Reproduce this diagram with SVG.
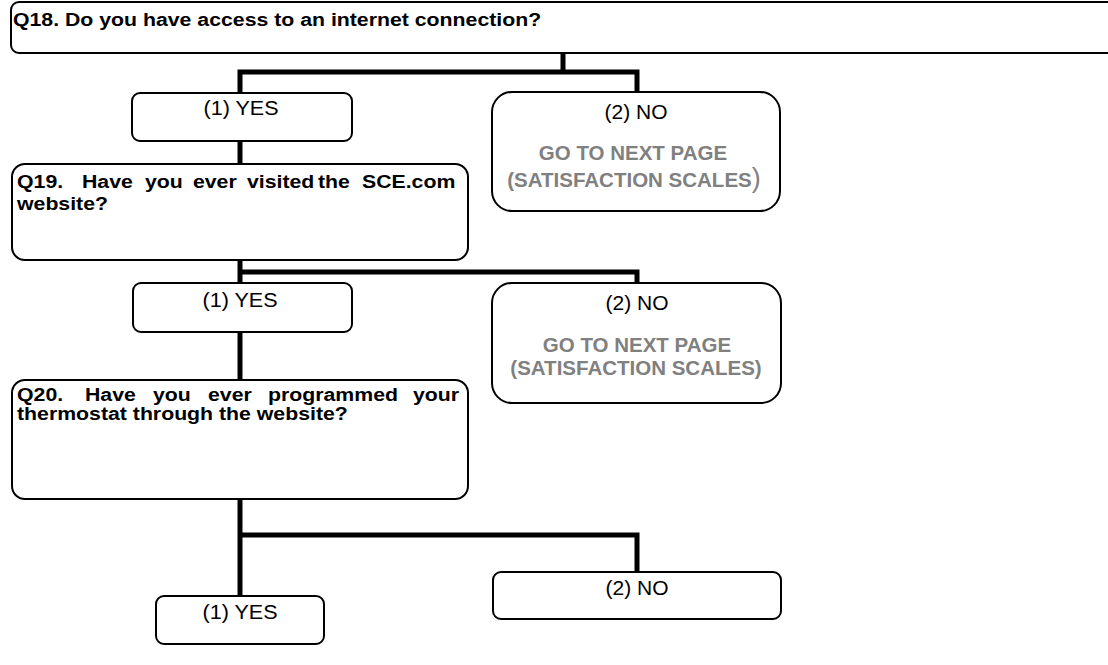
<svg xmlns="http://www.w3.org/2000/svg" width="1108" height="665" viewBox="0 0 1108 665">
<style>
.box{fill:#fff;stroke:#000;stroke-width:2}
.conn{fill:none;stroke:#000;stroke-width:5;stroke-linejoin:miter}
.q{font-family:"Liberation Sans",Arial,sans-serif;font-weight:bold;font-size:19px;fill:#000}
.lbl{font-family:"Liberation Sans",Arial,sans-serif;font-size:20px;fill:#000;text-anchor:middle}
.gray{font-family:"Liberation Sans",Arial,sans-serif;font-weight:bold;font-size:20.5px;fill:#808080;text-anchor:middle}
</style>
<rect width="1108" height="665" fill="#fff"/>
<g id="connectors">
<path class="conn" d="M563,53 V72"/>
<path class="conn" d="M240,93 V72 H637 V92"/>
<path class="conn" d="M240,141 V164"/>
<path class="conn" d="M240,260 V283"/>
<path class="conn" d="M240,272 H637 V283"/>
<path class="conn" d="M240,332 V380"/>
<path class="conn" d="M240,499 V596"/>
<path class="conn" d="M240,535 H637 V572"/>
</g>
<g id="q18">
<rect class="box" x="11" y="2" width="1110" height="51" rx="8"/>
<text class="q" transform="scale(1.12 1)" x="11.6" y="26">Q18. Do you have access to an internet connection?</text>
</g>
<g id="yes1">
<rect class="box" x="132" y="93" width="220" height="48" rx="8"/>
<text class="lbl" x="241" y="115" textLength="75" lengthAdjust="spacingAndGlyphs">(1) YES</text>
</g>
<g id="no1">
<rect class="box" x="492" y="92" width="288" height="119" rx="20"/>
<text class="lbl" x="636" y="119" textLength="63" lengthAdjust="spacingAndGlyphs">(2) NO</text>
<text class="gray" x="633" y="160">GO TO NEXT PAGE</text>
<text class="gray" x="634" y="187">(SATISFACTION SCALES<tspan font-size="27" font-weight="normal">)</tspan></text>
</g>
<g id="q19">
<rect class="box" x="12" y="164" width="456" height="96" rx="13"/>
<text class="q" transform="scale(1.12 1)" y="188"><tspan x="15.2">Q19.</tspan><tspan x="73.2">Have</tspan><tspan x="129.5">you</tspan><tspan x="172.3">ever</tspan><tspan x="220.5">visited</tspan><tspan x="283.9">the</tspan><tspan x="323.2">SCE.com</tspan></text>
<text class="q" transform="scale(1.12 1)" x="15.2" y="210">website?</text>
</g>
<g id="yes2">
<rect class="box" x="133" y="283" width="219" height="49" rx="8"/>
<text class="lbl" x="240" y="307" textLength="75" lengthAdjust="spacingAndGlyphs">(1) YES</text>
</g>
<g id="no2">
<rect class="box" x="492" y="283" width="289" height="120" rx="20"/>
<text class="lbl" x="637" y="310" textLength="63" lengthAdjust="spacingAndGlyphs">(2) NO</text>
<text class="gray" x="637" y="352">GO TO NEXT PAGE</text>
<text class="gray" x="636" y="375">(SATISFACTION SCALES)</text>
</g>
<g id="q20">
<rect class="box" x="12" y="380" width="456" height="119" rx="13"/>
<text class="q" transform="scale(1.12 1)" y="401"><tspan x="15.2">Q20.</tspan><tspan x="75.9">Have</tspan><tspan x="136.6">you</tspan><tspan x="185.7">ever</tspan><tspan x="239.3">programmed</tspan><tspan x="368.75">your</tspan></text>
<text class="q" transform="scale(1.12 1)" x="15.2" y="420">thermostat through the website?</text>
</g>
<g id="yes3">
<rect class="box" x="156" y="596" width="168" height="48" rx="8"/>
<text class="lbl" x="240" y="619" textLength="75" lengthAdjust="spacingAndGlyphs">(1) YES</text>
</g>
<g id="no3">
<rect class="box" x="493" y="572" width="288" height="47" rx="8"/>
<text class="lbl" x="637" y="595" textLength="63" lengthAdjust="spacingAndGlyphs">(2) NO</text>
</g>
</svg>
